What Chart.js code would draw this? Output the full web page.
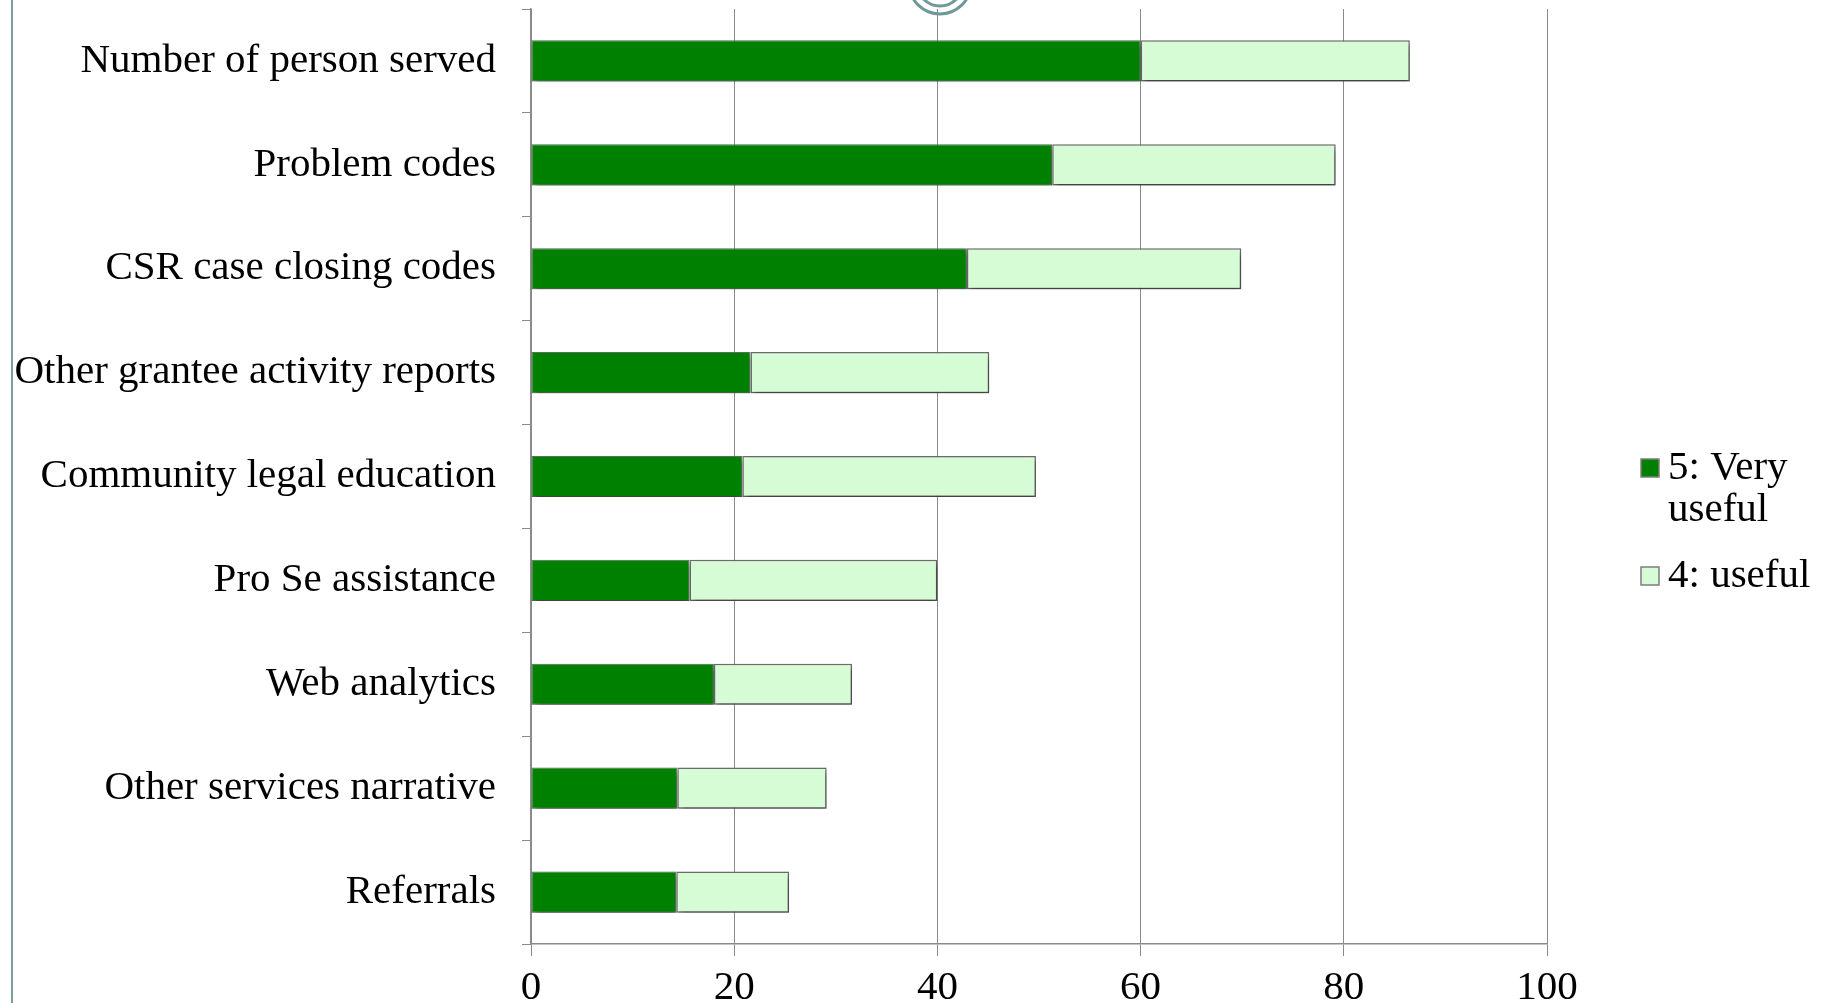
<!DOCTYPE html>
<html>
<head>
<meta charset="utf-8">
<script src="https://cdn.jsdelivr.net/npm/chart.js@4.4.1/dist/chart.umd.min.js"></script>
<style>
  html, body { margin: 0; padding: 0; background: #ffffff; }
  #wrap { width: 1831px; height: 1003px; position: relative; overflow: hidden; }
  canvas { display: block; }
</style>
</head>
<body>
<div id="wrap"><canvas id="chart" width="1831" height="1003"></canvas></div>
<script>
// Survey: share of respondents rating each data source as useful (%)
const categories = [
  'Number of person served',
  'Problem codes',
  'CSR case closing codes',
  'Other grantee activity reports',
  'Community legal education',
  'Pro Se assistance',
  'Web analytics',
  'Other services narrative',
  'Referrals'
];
const veryUseful = [60.0, 51.3, 42.9, 21.6, 20.8, 15.6, 18.0, 14.4, 14.3];
const useful     = [26.5, 27.9, 27.0, 23.5, 28.9, 24.4, 13.6, 14.7, 11.1];
const seriesNames = ['5: Very useful', '4: useful'];
const xTicks = [0, 20, 40, 60, 80, 100];

const FONT = '"Liberation Serif", "Times New Roman", serif';
const FONT_SIZE = 41;
const GRID = '#8a8a8a';
const DARK = '#008000';
const LIGHT = '#d6fcd6';

// soft drop shadow under the bars
const barShadow = {
  id: 'barShadow',
  beforeDatasetsDraw(chart) {
    const c = chart.ctx;
    c.save();
    c.shadowColor = 'rgba(0,0,0,0.45)';
    c.shadowBlur = 6;
    c.shadowOffsetX = 2;
    c.shadowOffsetY = 4;
  },
  afterDatasetsDraw(chart) { chart.ctx.restore(); }
};

// page frame: white ground, left rule and the ring ornament at the top
const frame = {
  id: 'frame',
  beforeDraw(chart) {
    const c = chart.ctx;
    c.save();
    c.fillStyle = '#ffffff';
    c.fillRect(0, 0, chart.width, chart.height);
    c.restore();
  },
  afterDraw(chart) {
    const c = chart.ctx;
    c.save();
    c.strokeStyle = '#7b9ea2';
    c.lineWidth = 2;
    c.beginPath();
    c.moveTo(12, 0);
    c.lineTo(12, chart.height);
    c.stroke();
    c.strokeStyle = '#6f9898';
    c.lineWidth = 3;
    [31, 23].forEach(r => {
      c.beginPath();
      c.arc(940, -17, r, 0, Math.PI * 2);
      c.stroke();
    });
    c.restore();
  }
};

// legend to the right of the plot, with wrapped labels
const sideLegend = {
  id: 'sideLegend',
  afterDraw(chart) {
    const c = chart.ctx;
    const x0 = chart.chartArea.right + 94;
    const maxW = 170;
    const lineH = 42;
    let y = 468;
    c.save();
    c.font = FONT_SIZE + 'px ' + FONT;
    c.textBaseline = 'middle';
    c.textAlign = 'left';
    chart.data.datasets.forEach(ds => {
      const words = ds.label.split(' ');
      const lines = [];
      let cur = '';
      words.forEach(w => {
        const t = cur ? cur + ' ' + w : w;
        if (cur && c.measureText(t).width > maxW) { lines.push(cur); cur = w; }
        else cur = t;
      });
      if (cur) lines.push(cur);
      c.fillStyle = ds.backgroundColor;
      c.fillRect(x0, y - 9, 18, 18);
      c.strokeStyle = '#7d7d7d';
      c.lineWidth = 1.5;
      c.strokeRect(x0, y - 9, 18, 18);
      c.fillStyle = '#000000';
      lines.forEach((ln, i) => c.fillText(ln, x0 + 27, y + i * lineH));
      y += lines.length * lineH + 24;
    });
    c.restore();
  }
};

new Chart(document.getElementById('chart'), {
  type: 'bar',
  data: {
    labels: categories,
    datasets: [
      {
        label: seriesNames[0],
        data: veryUseful,
        backgroundColor: DARK,
        borderColor: '#5d735d',
        borderWidth: 1,
        borderSkipped: false
      },
      {
        label: seriesNames[1],
        data: useful,
        backgroundColor: LIGHT,
        borderColor: '#6e6e6e',
        borderWidth: 1.5,
        borderSkipped: false
      }
    ]
  },
  options: {
    indexAxis: 'y',
    responsive: false,
    animation: false,
    devicePixelRatio: 1,
    layout: { padding: { top: 9, right: 284, bottom: 0, left: 0 } },
    datasets: { bar: { categoryPercentage: 1, barPercentage: 0.396 } },
    plugins: {
      legend: { display: false },
      tooltip: { enabled: false }
    },
    scales: {
      x: {
        stacked: true,
        min: 0,
        max: 100,
        afterBuildTicks(scale) { scale.ticks = xTicks.map(v => ({ value: v })); },
        afterFit(scale) { scale.height = 59; },
        ticks: {
          color: '#000000',
          padding: 8,
          font: { family: FONT, size: FONT_SIZE }
        },
        grid: { color: GRID, lineWidth: 1, tickLength: 12, tickColor: GRID },
        border: { display: true, color: GRID, width: 1.5 }
      },
      y: {
        stacked: true,
        afterFit(scale) {
          scale.width = 531;
          scale.paddingTop = 0;
          scale.paddingBottom = 0;
        },
        ticks: {
          color: '#000000',
          padding: 26,
          font: { family: FONT, size: FONT_SIZE }
        },
        grid: { offset: true, drawOnChartArea: false, tickLength: 9, color: GRID, tickColor: GRID },
        border: { display: true, color: GRID, width: 1.5 }
      }
    }
  },
  plugins: [frame, barShadow, sideLegend]
});
</script>
</body>
</html>
